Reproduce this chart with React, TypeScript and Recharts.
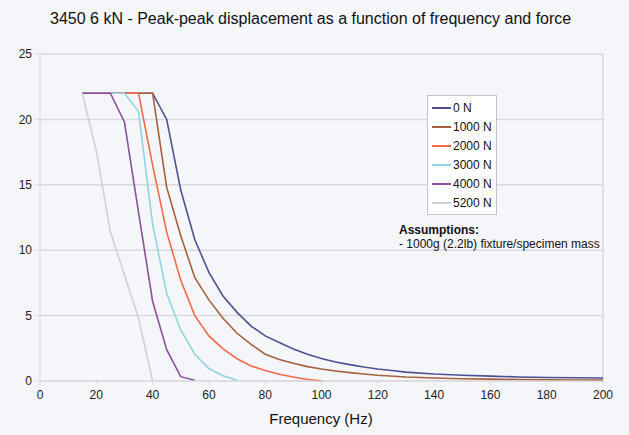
import { LineChart, Line, XAxis, YAxis, CartesianGrid, ReferenceLine } from 'recharts';

// frequency (Hz) and peak-peak displacement (mm) per static force
const freq0N = [15, 20, 25, 30, 35, 40, 45, 50, 55, 60, 65, 70, 75, 80, 85, 90, 95, 100, 105, 110, 115, 120, 125, 130, 140, 150, 160, 170, 180, 190, 200];
const disp0N = [22, 22, 22, 22, 22, 22, 20, 14.6, 10.8, 8.3, 6.5, 5.25, 4.2, 3.45, 2.95, 2.45, 2.05, 1.72, 1.45, 1.25, 1.07, 0.92, 0.8, 0.68, 0.53, 0.44, 0.37, 0.31, 0.27, 0.25, 0.23];

const freq1000N = [15, 20, 25, 30, 35, 40, 45, 50, 55, 60, 65, 70, 75, 80, 85, 90, 95, 100, 105, 110, 115, 120, 130, 140, 150, 160, 170, 180, 190, 200];
const disp1000N = [22, 22, 22, 22, 22, 22, 14.8, 11.1, 7.9, 6.2, 4.8, 3.65, 2.8, 2.05, 1.65, 1.35, 1.1, 0.92, 0.77, 0.64, 0.53, 0.44, 0.31, 0.23, 0.17, 0.14, 0.11, 0.09, 0.08, 0.07];

const freq2000N = [15, 20, 25, 30, 35, 40, 45, 50, 55, 60, 65, 70, 75, 80, 85, 90, 95, 100];
const disp2000N = [22, 22, 22, 22, 22, 16.5, 11.4, 7.7, 5.0, 3.45, 2.45, 1.7, 1.15, 0.8, 0.52, 0.3, 0.12, 0.02];

const freq3000N = [15, 20, 25, 30, 35, 40, 45, 50, 55, 60, 65, 70];
const disp3000N = [22, 22, 22, 22, 20.6, 12.0, 6.7, 3.9, 2.05, 0.95, 0.4, 0.05];

const freq4000N = [15, 20, 25, 30, 35, 40, 45, 50, 55];
const disp4000N = [22, 22, 22, 19.8, 12.9, 6.1, 2.4, 0.33, 0.05];

const freq5200N = [15, 20, 25, 30, 35, 40];
const disp5200N = [22, 17.6, 11.4, 8.1, 4.8, 0];

const xTicks = [0, 20, 40, 60, 80, 100, 120, 140, 160, 180, 200];
const yTicks = [0, 5, 10, 15, 20, 25];

const toPoints = (f: number[], d: number[]) => f.map((x, i) => ({ f: x, d: d[i] }));

const series = [
  { name: '0 N', color: '#4f4f92', data: toPoints(freq0N, disp0N) },
  { name: '1000 N', color: '#a5603d', data: toPoints(freq1000N, disp1000N) },
  { name: '2000 N', color: '#f2694a', data: toPoints(freq2000N, disp2000N) },
  { name: '3000 N', color: '#93d4e2', data: toPoints(freq3000N, disp3000N) },
  { name: '4000 N', color: '#8d4e9b', data: toPoints(freq4000N, disp4000N) },
  { name: '5200 N', color: '#d0d0d0', data: toPoints(freq5200N, disp5200N) },
];

const font = '"Liberation Sans", Arial, sans-serif';
const gridColor = '#d9d9de';

function LegendBox() {
  return (
    <div
      style={{
        position: 'absolute',
        left: 427,
        top: 95,
        width: 64,
        background: '#fff',
        border: '1px solid #c6c6c6',
        padding: '2px 0 2px 4px',
        fontSize: 12,
        color: '#111',
      }}
    >
      {series.map((s) => (
        <div key={s.name} style={{ display: 'flex', alignItems: 'center', height: 19 }}>
          <span style={{ display: 'inline-block', width: 19, height: 2, background: s.color, marginRight: 2 }} />
          {s.name}
        </div>
      ))}
    </div>
  );
}

export default function App() {
  return (
    <div
      style={{
        position: 'absolute',
        left: 0,
        top: 0,
        width: 629,
        height: 435,
        background: '#f5f6fa',
        fontFamily: font,
      }}
    >
      <div style={{ position: 'absolute', left: 50, top: 10, fontSize: 16, color: '#111', whiteSpace: 'nowrap' }}>
        3450 6 kN - Peak-peak displacement as a function of frequency and force
      </div>
      <LineChart width={629} height={435} margin={{ top: 54, right: 26, bottom: 24, left: 0 }}>
        <CartesianGrid vertical={false} stroke={gridColor} strokeWidth={1.5} />
        <XAxis
          type="number"
          dataKey="f"
          domain={[0, 200]}
          ticks={xTicks}
          height={30}
          stroke={gridColor}
          tickSize={4}
          tickMargin={5}
          tick={{ fill: '#222', fontSize: 12, fontFamily: font }}
        />
        <YAxis
          type="number"
          domain={[0, 25]}
          ticks={yTicks}
          width={40}
          stroke={gridColor}
          tickSize={5}
          tickMargin={3}
          tick={{ fill: '#222', fontSize: 12, fontFamily: font }}
        />
        <ReferenceLine x={200} stroke={gridColor} strokeWidth={1.5} />
        {series.map((s) => (
          <Line
            key={s.name}
            data={s.data}
            dataKey="d"
            name={s.name}
            stroke={s.color}
            strokeWidth={1.6}
            dot={false}
            isAnimationActive={false}
          />
        ))}
      </LineChart>
      <LegendBox />
      <div style={{ position: 'absolute', left: 399, top: 223, fontSize: 12, lineHeight: '14px', color: '#111' }}>
        <div style={{ fontWeight: 'bold' }}>Assumptions:</div>
        <div>- 1000g (2.2lb) fixture/specimen mass</div>
      </div>
      <div style={{ position: 'absolute', left: 0, width: 642, top: 410, textAlign: 'center', fontSize: 15, color: '#111' }}>
        Frequency (Hz)
      </div>
    </div>
  );
}
